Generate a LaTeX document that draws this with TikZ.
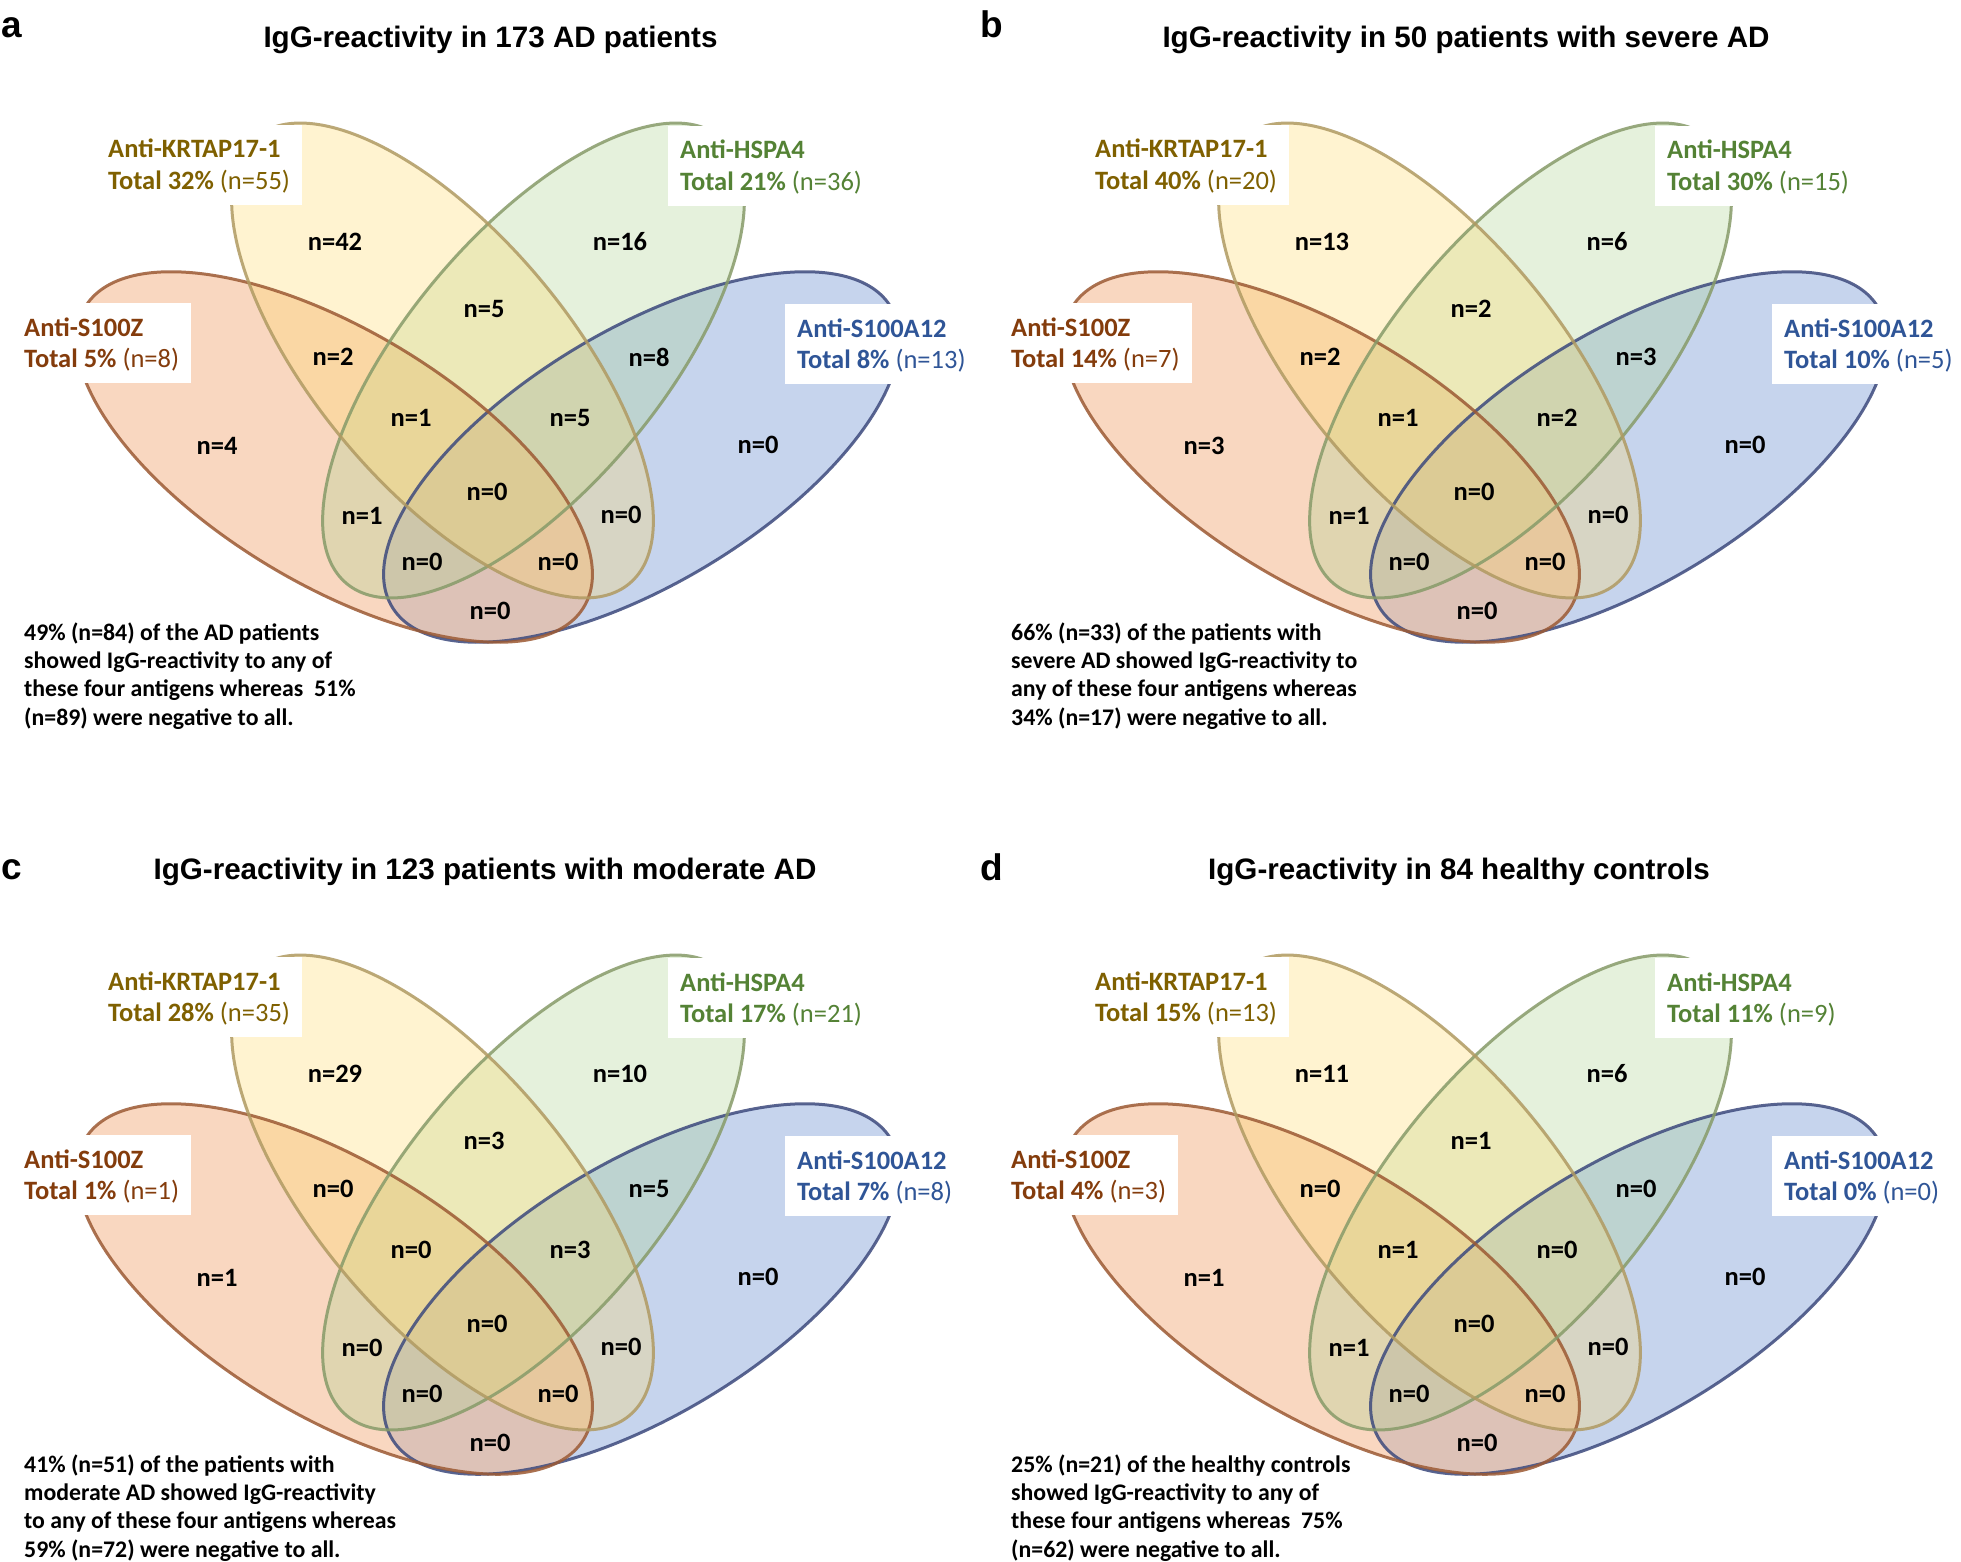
\documentclass[tikz,border=0pt]{standalone}
\usepackage{fontspec}
\setmainfont{Carlito}
\newfontfamily\arialfont{Liberation Sans}
\usetikzlibrary{fit}
\pgfdeclarelayer{pagebg}
\pgfdeclarelayer{ellipses}
\pgfdeclarelayer{outlines}
\pgfdeclarelayer{boxes}
\pgfsetlayers{pagebg,ellipses,outlines,boxes,main}

\definecolor{kcol}{HTML}{7F6000}
\definecolor{hcol}{HTML}{548235}
\definecolor{zcol}{HTML}{843C0C}
\definecolor{scol}{HTML}{2F5597}
\definecolor{ofill}{HTML}{F4B183}
\definecolor{yfill}{HTML}{FFD966}
\definecolor{gfill}{HTML}{A9D18E}
\definecolor{bfill}{HTML}{8FAADC}
\definecolor{oline}{HTML}{9C5A34}
\definecolor{yline}{HTML}{B09A62}
\definecolor{gline}{HTML}{879B69}
\definecolor{bline}{HTML}{3D4A7D}

\tikzset{
  vline/.style={line width=3pt, draw opacity=0.85},
  labtxt/.style={inner sep=0pt, anchor=base west, text height=23pt, text depth=5pt,
    font=\fontsize{26.5}{31.8}\selectfont\bfseries},
  labbox/.style={fill=white, inner xsep=12pt, inner ysep=10pt},
  cntst/.style={font=\fontsize{26.5}{31.8}\selectfont\bfseries, inner sep=0pt},
  notest/.style={font=\fontsize{23.8}{28.4}\selectfont\bfseries, align=left, anchor=base west, inner sep=0pt},
  ttl/.style={font=\arialfont\bfseries\fontsize{29.6}{35}\selectfont, anchor=base, inner sep=0pt},
  plet/.style={font=\arialfont\bfseries\fontsize{37}{40}\selectfont, anchor=base west, inner sep=0pt},
}

\newcommand\vennshapes{%
  \begin{pgfonlayer}{ellipses}
    \fill[bfill, fill opacity=0.5, rotate around={31:(641.5,457)}] (641.5,457) ellipse [x radius=291pt, y radius=127pt];
    \fill[ofill, fill opacity=0.5, rotate around={-31:(334.5,457)}] (334.5,457) ellipse [x radius=291pt, y radius=127pt];
    \fill[gfill, fill opacity=0.3, rotate around={50:(533.5,360.5)}] (533.5,360.5) ellipse [x radius=291pt, y radius=127pt];
    \fill[yfill, fill opacity=0.3, rotate around={-50:(442.5,360.5)}] (442.5,360.5) ellipse [x radius=291pt, y radius=127pt];
  \end{pgfonlayer}
  \begin{pgfonlayer}{outlines}
    \draw[vline, bline, rotate around={31:(641.5,457)}] (641.5,457) ellipse [x radius=291pt, y radius=127pt];
    \draw[vline, oline, rotate around={-31:(334.5,457)}] (334.5,457) ellipse [x radius=291pt, y radius=127pt];
    \draw[vline, gline, rotate around={50:(533.5,360.5)}] (533.5,360.5) ellipse [x radius=291pt, y radius=127pt];
    \draw[vline, yline, rotate around={-50:(442.5,360.5)}] (442.5,360.5) ellipse [x radius=291pt, y radius=127pt];
  \end{pgfonlayer}}

% #1 name, #2 x, #3 baseline, #4 colour, #5 line 1, #6 bold part, #7 regular part
\newcommand\lab[7]{%
  \node[labtxt, text=#4] (#1-1) at (#2,#3) {#5};
  \node[labtxt, text=#4] (#1-2) at (#2,#3+31.8) {#6 {\mdseries #7}};
  \begin{pgfonlayer}{boxes}
    \node[labbox, fit=(#1-1)(#1-2)] (#1-box) {};
  \end{pgfonlayer}}

\newcommand\labels[9]{%
  \lab{#1-k}{108}{158}{kcol}{Anti-KRTAP17-1}{Total #2}{(n=#3)}%
  \lab{#1-h}{680}{159}{hcol}{Anti-HSPA4}{Total #4}{(n=#5)}%
  \lab{#1-z}{24}{336}{zcol}{Anti-S100Z}{Total #6}{(n=#7)}%
  \lab{#1-s}{797}{337}{scol}{Anti-S100A12}{Total #8}{(n=#9)}}

\newcommand\countsA[9]{%
  \node[cntst] (#1-O) at (217,446) {n=#2};
  \node[cntst] (#1-Y) at (335,242) {n=#3};
  \node[cntst] (#1-G) at (620,242) {n=#4};
  \node[cntst] (#1-B) at (758,445) {n=#5};
  \node[cntst] (#1-OY) at (333,356.5) {n=#6};
  \node[cntst] (#1-YG) at (484,309) {n=#7};
  \node[cntst] (#1-GB) at (649,357) {n=#8};
  \node[cntst] (#1-OYG) at (411,418) {n=#9};}
\newcommand\countsB[8]{%
  \node[cntst] (#1-YGB) at (570,418) {n=#2};
  \node[cntst] (#1-OYGB) at (487,492) {n=#3};
  \node[cntst] (#1-OG) at (362,516) {n=#4};
  \node[cntst] (#1-YB) at (621,515) {n=#5};
  \node[cntst] (#1-OGB) at (422,562) {n=#6};
  \node[cntst] (#1-OYB) at (558,562) {n=#7};
  \node[cntst] (#1-OB) at (490,611) {n=#8};}

\begin{document}
\begin{tikzpicture}[x=1pt,y=-1pt]
\begin{pgfonlayer}{pagebg}
  \fill[white] (0,0) rectangle (1961,1562);
\end{pgfonlayer}
\useasboundingbox (0,0) rectangle (1961,1562);

% panel letters and titles
\node[plet] (let-a) at (1,37.5) {a};
\node[plet] (let-b) at (980,37.5) {b};
\node[plet] (let-c) at (1,879) {c};
\node[plet] (let-d) at (980,880) {d};
\node[ttl] (ttl-a) at (490.5,47.5) {IgG-reactivity in 173 AD patients};
\node[ttl] (ttl-b) at (1466,47.5) {IgG-reactivity in 50 patients with severe AD};
\node[ttl] (ttl-c) at (485,879) {IgG-reactivity in 123 patients with moderate AD};
\node[ttl] (ttl-d) at (1459,879) {IgG-reactivity in 84 healthy controls};

% panel a
\begin{scope}
  \vennshapes
  \labels{a}{32\%}{55}{21\%}{36}{5\%}{8}{8\%}{13}
  \countsA{a}{4}{42}{16}{0}{2}{5}{8}{1}
  \countsB{a}{5}{0}{1}{0}{0}{0}{0}
  \node[notest] (a-note) at (24,725.2) {49\% (n=84) of the AD patients\\showed IgG-reactivity to any of\\these four antigens whereas\ \ 51\%\\(n=89) were negative to all.};
\end{scope}

% panel b
\begin{scope}[shift={(987,0)}]
  \vennshapes
  \labels{b}{40\%}{20}{30\%}{15}{14\%}{7}{10\%}{5}
  \countsA{b}{3}{13}{6}{0}{2}{2}{3}{1}
  \countsB{b}{2}{0}{1}{0}{0}{0}{0}
  \node[notest] (b-note) at (24,725.2) {66\% (n=33) of the patients with\\severe AD showed IgG-reactivity to\\any of these four antigens whereas\\34\% (n=17) were negative to all.};
\end{scope}

% panel c
\begin{scope}[shift={(0,832)}]
  \vennshapes
  \labels{c}{28\%}{35}{17\%}{21}{1\%}{1}{7\%}{8}
  \countsA{c}{1}{29}{10}{0}{0}{3}{5}{0}
  \countsB{c}{3}{0}{0}{0}{0}{0}{0}
  \node[notest] (c-note) at (24,725.2) {41\% (n=51) of the patients with\\moderate AD showed IgG-reactivity\\to any of these four antigens whereas\\59\% (n=72) were negative to all.};
\end{scope}

% panel d
\begin{scope}[shift={(987,832)}]
  \vennshapes
  \labels{d}{15\%}{13}{11\%}{9}{4\%}{3}{0\%}{0}
  \countsA{d}{1}{11}{6}{0}{0}{1}{0}{1}
  \countsB{d}{0}{0}{1}{0}{0}{0}{0}
  \node[notest] (d-note) at (24,725.2) {25\% (n=21) of the healthy controls\\showed IgG-reactivity to any of\\these four antigens whereas\ \ 75\%\\(n=62) were negative to all.};
\end{scope}
\end{tikzpicture}
\end{document}
